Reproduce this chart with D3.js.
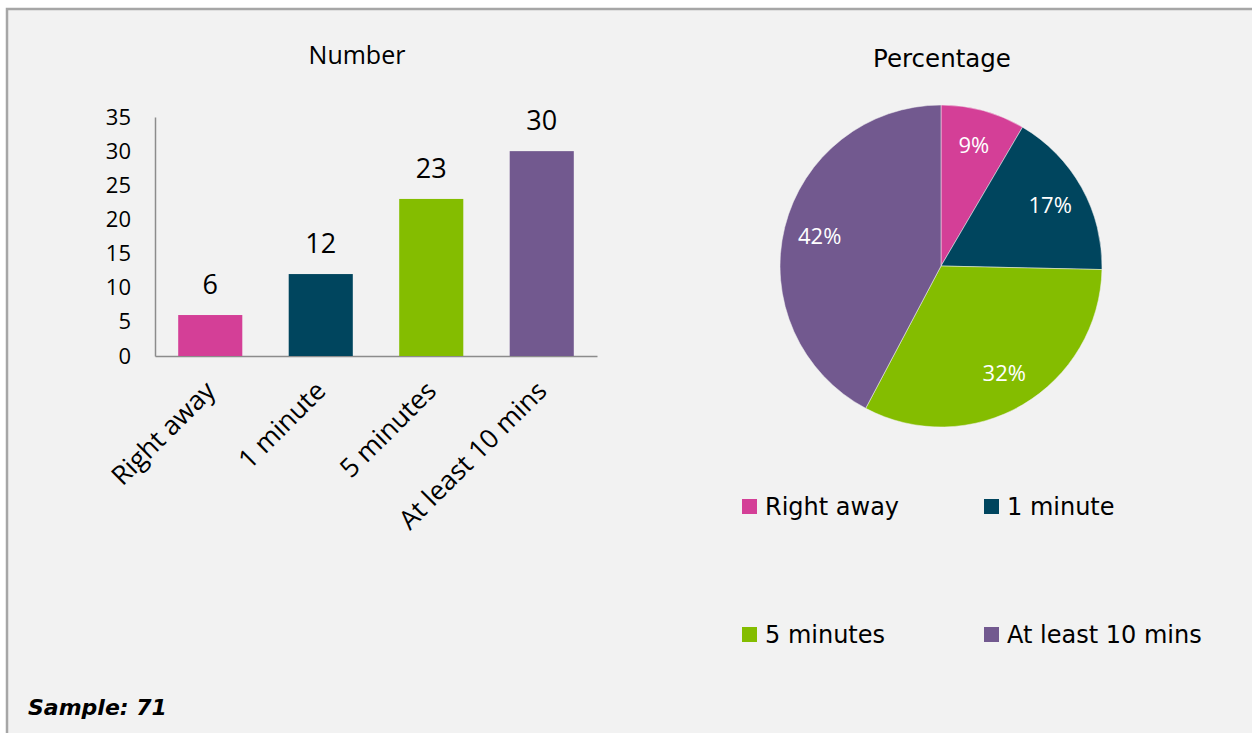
<!DOCTYPE html>
<html>
<head>
<meta charset="utf-8">
<script src="https://cdn.jsdelivr.net/npm/d3@7"></script>
<style>
  html, body { margin: 0; padding: 0; background: #ffffff; }
  svg { display: block; }
</style>
</head>
<body>
<svg id="chart" width="1252" height="733"></svg>
<script>
// Response time categories and counts
const categories = ["Right away", "1 minute", "5 minutes", "At least 10 mins"];
const counts = [6, 12, 23, 30];
const percentLabels = ["9%", "17%", "32%", "42%"];
const colors = ["#D43F97", "#00455E", "#84BD00", "#72598F"];
const yTicks = [0, 5, 10, 15, 20, 25, 30, 35];
const sampleSize = 71;

const svg = d3.select("#chart");

// Panel background and frame
svg.append("rect").attr("x", 7).attr("y", 9).attr("width", 1260).attr("height", 740)
  .attr("fill", "#f2f2f2").attr("stroke", "#a6a6a6").attr("stroke-width", 2.5);

const sansFont = "'Open Sans', 'Noto Sans', sans-serif";
const legendFont = "'DejaVu Sans', Verdana, sans-serif";

// ---- Bar chart ----
const x = d3.scaleBand().domain(categories).range([155, 597]).paddingInner(0.42).paddingOuter(0.21);
const y = d3.scaleLinear().domain([0, 35]).range([356, 117]);

svg.append("text").attr("x", 357).attr("y", 64).attr("text-anchor", "middle")
  .attr("font-family", sansFont).attr("font-size", 25).attr("fill", "#000").text("Number");

const yAxis = svg.append("g").attr("transform", "translate(155,0)")
  .call(d3.axisLeft(y).tickValues(yTicks).tickSize(0).tickPadding(24));
yAxis.select(".domain").attr("stroke", "#8c8c8c").attr("stroke-width", 1.5);
yAxis.selectAll("text").attr("font-family", sansFont).attr("font-size", 22).attr("fill", "#000");

const xAxis = svg.append("g").attr("transform", "translate(0,356)")
  .call(d3.axisBottom(x).tickSize(0).tickFormat(""));
xAxis.select(".domain").attr("stroke", "#8c8c8c").attr("stroke-width", 1.5);

svg.append("g").selectAll("rect").data(counts).join("rect")
  .attr("x", (d, i) => x(categories[i]))
  .attr("y", d => y(d))
  .attr("width", x.bandwidth())
  .attr("height", d => y(0) - y(d))
  .attr("fill", (d, i) => colors[i]);

svg.append("g").selectAll("text").data(counts).join("text")
  .attr("x", (d, i) => x(categories[i]) + x.bandwidth() / 2)
  .attr("y", d => y(d) - 21)
  .attr("text-anchor", "middle")
  .attr("font-family", sansFont).attr("font-size", 27).attr("fill", "#000")
  .text(d => d);

svg.append("g").selectAll("text").data(categories).join("text")
  .attr("transform", d => `translate(${x(d) + x.bandwidth() / 2},386) rotate(-45)`)
  .attr("text-anchor", "end")
  .attr("dy", "0.35em")
  .attr("font-family", sansFont).attr("font-size", 26.5).attr("fill", "#000")
  .text(d => d);

// ---- Pie chart ----
const cx = 941, cy = 266, radius = 161;
svg.append("text").attr("x", 942).attr("y", 67).attr("text-anchor", "middle")
  .attr("font-family", legendFont).attr("font-size", 24.5).attr("fill", "#000").text("Percentage");

const pie = d3.pie().sort(null).value(d => d);
const arcs = pie(counts);
const arc = d3.arc().innerRadius(0).outerRadius(radius);
const labelArc = d3.arc().innerRadius(125).outerRadius(125);

const pg = svg.append("g").attr("transform", `translate(${cx},${cy})`);
pg.selectAll("path").data(arcs).join("path")
  .attr("d", arc).attr("fill", (d, i) => colors[i])
  .attr("stroke", "#f2f2f2").attr("stroke-width", 0.5);
pg.selectAll("text").data(arcs).join("text")
  .attr("transform", d => `translate(${labelArc.centroid(d)})`)
  .attr("text-anchor", "middle").attr("dy", "0.35em")
  .attr("font-family", sansFont).attr("font-size", 22).attr("fill", "#fff")
  .text((d, i) => percentLabels[i]);

// ---- Legend ----
const legendPos = [[742, 499], [984, 499], [742, 627], [984, 627]];
const lg = svg.append("g").selectAll("g").data(categories).join("g")
  .attr("transform", (d, i) => `translate(${legendPos[i][0]},${legendPos[i][1]})`);
lg.append("rect").attr("width", 15).attr("height", 15).attr("fill", (d, i) => colors[i]);
lg.append("text").attr("x", 23).attr("y", 16)
  .attr("font-family", legendFont).attr("font-size", 24).attr("fill", "#000")
  .text(d => d);

// ---- Sample size note ----
svg.append("text").attr("x", 28).attr("y", 715)
  .attr("font-family", legendFont).attr("font-size", 22)
  .attr("font-weight", "bold").attr("font-style", "italic").attr("fill", "#000")
  .text(`Sample: ${sampleSize}`);
</script>
</body>
</html>
